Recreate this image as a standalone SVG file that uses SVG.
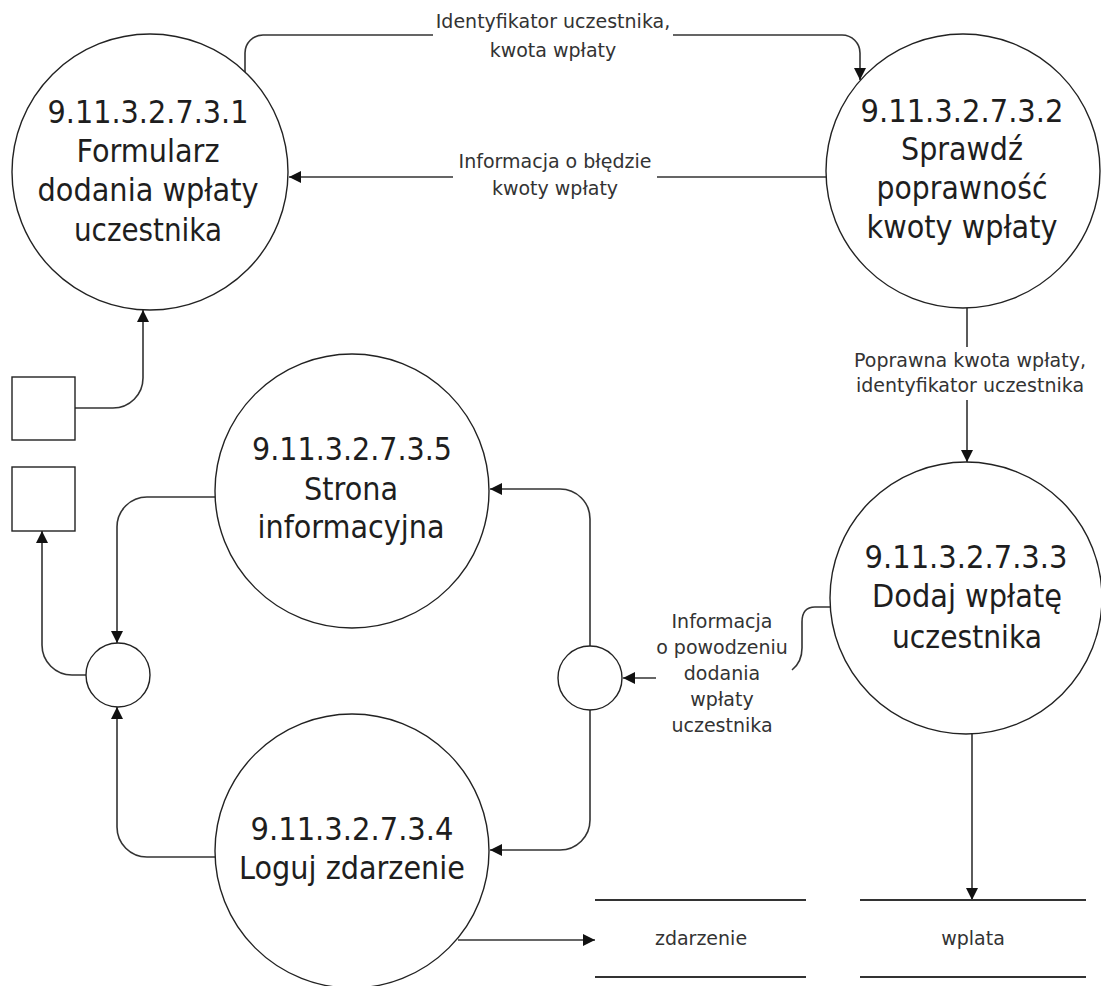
<svg xmlns="http://www.w3.org/2000/svg" width="1101" height="986" viewBox="0 0 1101 986">
<style>
.node{fill:#fff;stroke:#222;stroke-width:1.4}
.big{font-family:"DejaVu Sans",Verdana,sans-serif;font-size:31.5px;fill:#1e1e1e;text-anchor:middle}
.lbl{font-family:"DejaVu Sans",Verdana,sans-serif;font-size:19px;fill:#333;text-anchor:middle}
.con{fill:none;stroke:#333;stroke-width:1.6}
.ds{stroke:#333;stroke-width:1.8}
</style>
<defs>
<marker id="arr" viewBox="0 0 10 10" refX="10" refY="5" markerWidth="13" markerHeight="12" markerUnits="userSpaceOnUse" orient="auto">
<path d="M0,0 L10,5 L0,10 z" fill="#111"/>
</marker>
</defs>
<rect width="1101" height="986" fill="#fff"/>

<g id="connectors">
<path class="con" d="M245,72 V53 A18,18 0 0 1 263,35 H433 M673,35 H842 A18,18 0 0 1 860,53 V80" marker-end="url(#arr)"/>
<path class="con" d="M826,177 H657 M453,177 H289" marker-end="url(#arr)"/>
<path class="con" d="M967,308 V347 M967,400 V462" marker-end="url(#arr)"/>
<path class="con" d="M831,607 H815 C806,607 802,612 802,622 V648 C802,660 797,666 792,670"/>
<path class="con" d="M656,678 H623" marker-end="url(#arr)"/>
<path class="con" d="M590,646 V519 A30,30 0 0 0 560,489 H490" marker-end="url(#arr)"/>
<path class="con" d="M590,710 V820 A30,30 0 0 1 560,850 H490" marker-end="url(#arr)"/>
<path class="con" d="M215,497 H147 A30,30 0 0 0 117,527 V643" marker-end="url(#arr)"/>
<path class="con" d="M215,857 H147 A30,30 0 0 1 117,827 V707" marker-end="url(#arr)"/>
<path class="con" d="M86,675 H72 A30,30 0 0 1 42,645 V531" marker-end="url(#arr)"/>
<path class="con" d="M75,408 H113 A30,30 0 0 0 143,378 V310" marker-end="url(#arr)"/>
<path class="con" d="M458,940 H595" marker-end="url(#arr)"/>
<path class="con" d="M972,734 V900" marker-end="url(#arr)"/>
<text class="lbl" x="553" y="28">Identyfikator uczestnika,</text>
<text class="lbl" x="553" y="57">kwota wpłaty</text>
<text class="lbl" x="555" y="168">Informacja o błędzie</text>
<text class="lbl" x="555" y="195">kwoty wpłaty</text>
<text class="lbl" x="970" y="367">Poprawna kwota wpłaty,</text>
<text class="lbl" x="970" y="392">identyfikator uczestnika</text>
<text class="lbl" x="722" y="628">Informacja</text>
<text class="lbl" x="722" y="654">o powodzeniu</text>
<text class="lbl" x="722" y="680">dodania</text>
<text class="lbl" x="722" y="706">wpłaty</text>
<text class="lbl" x="722" y="732">uczestnika</text>
</g>

<g id="p1">
<circle class="node" cx="150" cy="172" r="138"/>
<text class="big" x="148" y="123" textLength="201" lengthAdjust="spacingAndGlyphs">9.11.3.2.7.3.1</text>
<text class="big" x="148" y="162" textLength="143" lengthAdjust="spacingAndGlyphs">Formularz</text>
<text class="big" x="148" y="201" textLength="221" lengthAdjust="spacingAndGlyphs">dodania wpłaty</text>
<text class="big" x="148" y="241" textLength="148" lengthAdjust="spacingAndGlyphs">uczestnika</text>
</g>

<g id="p2">
<circle class="node" cx="963" cy="171" r="137"/>
<text class="big" x="962" y="122" textLength="203" lengthAdjust="spacingAndGlyphs">9.11.3.2.7.3.2</text>
<text class="big" x="962" y="160" textLength="122" lengthAdjust="spacingAndGlyphs">Sprawdź</text>
<text class="big" x="962" y="199" textLength="171" lengthAdjust="spacingAndGlyphs">poprawność</text>
<text class="big" x="962" y="238" textLength="191" lengthAdjust="spacingAndGlyphs">kwoty wpłaty</text>
</g>

<g id="p3">
<circle class="node" cx="966" cy="598" r="136"/>
<text class="big" x="966" y="568" textLength="203" lengthAdjust="spacingAndGlyphs">9.11.3.2.7.3.3</text>
<text class="big" x="967" y="607" textLength="190" lengthAdjust="spacingAndGlyphs">Dodaj wpłatę</text>
<text class="big" x="967" y="648" textLength="150" lengthAdjust="spacingAndGlyphs">uczestnika</text>
</g>

<g id="p5">
<circle class="node" cx="352" cy="491" r="137"/>
<text class="big" x="352" y="460" textLength="200" lengthAdjust="spacingAndGlyphs">9.11.3.2.7.3.5</text>
<text class="big" x="351" y="500" textLength="94" lengthAdjust="spacingAndGlyphs">Strona</text>
<text class="big" x="351" y="538" textLength="187" lengthAdjust="spacingAndGlyphs">informacyjna</text>
</g>

<g id="p4">
<circle class="node" cx="352" cy="851" r="137"/>
<text class="big" x="352" y="840" textLength="203" lengthAdjust="spacingAndGlyphs">9.11.3.2.7.3.4</text>
<text class="big" x="352" y="879" textLength="226" lengthAdjust="spacingAndGlyphs">Loguj zdarzenie</text>
</g>

<g id="junction-right">
<circle class="node" cx="590" cy="678" r="32"/>
</g>
<g id="junction-left">
<circle class="node" cx="118" cy="675" r="32"/>
</g>

<g id="ext1">
<rect class="node" x="12" y="377" width="63" height="63" stroke-width="1.8"/>
</g>
<g id="ext2">
<rect class="node" x="12" y="467" width="63" height="64" stroke-width="1.8"/>
</g>

<g id="ds-zdarzenie">
<line class="ds" x1="595" y1="900" x2="806" y2="900"/>
<line class="ds" x1="595" y1="977" x2="806" y2="977"/>
<text class="lbl" x="701" y="945">zdarzenie</text>
</g>
<g id="ds-wplata">
<line class="ds" x1="860" y1="900" x2="1086" y2="900"/>
<line class="ds" x1="860" y1="977" x2="1086" y2="977"/>
<text class="lbl" x="973" y="945">wplata</text>
</g>
</svg>
